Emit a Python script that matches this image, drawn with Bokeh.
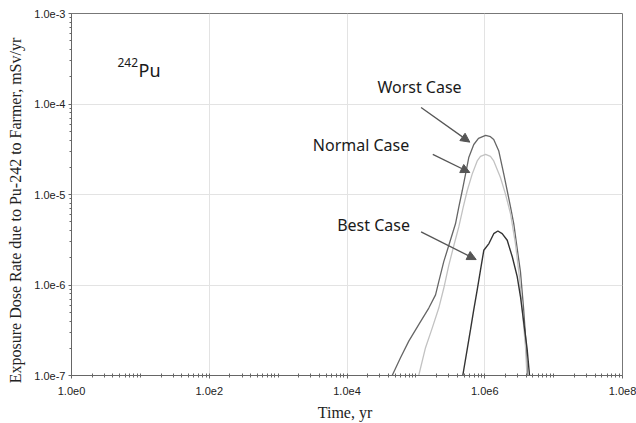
from bokeh.plotting import figure
from bokeh.models import (FixedTicker, CustomJSTickFormatter, Label, Arrow,
                          NormalHead)
from bokeh.embed import file_html
from bokeh.resources import INLINE

# Exposure dose rate to a farmer from Pu-242 (mSv/yr) versus time (yr)
worst_t = [4.53e4, 5.98e4, 7.89e4, 1.10e5, 1.54e5, 1.93e5, 2.15e5, 2.54e5,
           3.01e5, 3.76e5, 4.20e5, 4.71e5, 5.26e5, 5.86e5, 6.93e5, 8.11e5,
           1.03e6, 1.21e6, 1.35e6, 1.60e6, 1.89e6, 2.12e6, 2.37e6, 2.64e6,
           2.89e6, 3.30e6, 3.66e6, 3.97e6, 4.18e6]
worst_d = [1.0e-7, 1.57e-7, 2.40e-7, 3.65e-7, 5.56e-7, 7.78e-7, 1.09e-6,
           1.81e-6, 2.75e-6, 4.75e-6, 7.24e-6, 1.10e-5, 1.68e-5, 2.56e-5,
           3.57e-5, 4.16e-5, 4.49e-5, 4.35e-5, 4.06e-5, 3.02e-5, 1.68e-5,
           1.10e-5, 7.24e-6, 4.75e-6, 2.87e-6, 1.40e-6, 5.56e-7, 2.30e-7,
           1.0e-7]

normal_t = [1.10e5, 1.38e5, 1.73e5, 2.15e5, 2.54e5, 3.01e5, 3.56e5, 4.20e5,
            4.87e5, 5.56e5, 6.57e5, 7.77e5, 8.67e5, 1.03e6, 1.21e6, 1.35e6,
            1.69e6, 2.00e6, 2.37e6, 2.79e6, 3.20e6, 3.59e6, 3.91e6, 4.10e6]
normal_d = [1.0e-7, 2.03e-7, 3.36e-7, 5.56e-7, 9.20e-7, 1.66e-6, 2.73e-6,
            4.38e-6, 7.24e-6, 1.10e-5, 1.68e-5, 2.35e-5, 2.64e-5, 2.78e-5,
            2.64e-5, 2.35e-5, 1.54e-5, 1.01e-5, 6.11e-6, 2.87e-6, 1.19e-6,
            4.33e-7, 2.03e-7, 1.0e-7]

best_t = [4.80e5, 5.56e5, 6.21e5, 6.93e5, 7.77e5, 8.67e5, 9.69e5, 1.15e6,
          1.35e6, 1.55e6, 1.79e6, 2.12e6, 2.51e6, 2.96e6, 3.30e6, 3.69e6,
          4.13e6, 4.47e6]
best_d = [1.0e-7, 1.94e-7, 3.21e-7, 5.33e-7, 8.83e-7, 1.46e-6, 2.42e-6,
          2.87e-6, 3.69e-6, 3.95e-6, 3.69e-6, 3.12e-6, 2.05e-6, 1.24e-6,
          7.46e-7, 3.81e-7, 1.94e-7, 1.0e-7]

x_major = [10.0 ** k for k in range(0, 9, 2)]
x_minor = [m * 10.0 ** k for k in range(0, 8) for m in range(1, 10)]
y_major = [10.0 ** k for k in range(-7, -2)]
y_minor = [m * 10.0 ** k for k in range(-7, -3) for m in range(1, 10)]

p = figure(width=636, height=423, x_axis_type="log", y_axis_type="log",
           x_range=(1.0, 1.0e8), y_range=(1.0e-7, 1.0e-3),
           output_backend="svg", toolbar_location=None,
           min_border_left=71, min_border_right=14,
           min_border_top=13, min_border_bottom=45)
p.background_fill_color = "white"
p.border_fill_color = "white"
p.outline_line_color = "#777777"
p.outline_line_width = 1

fmt = CustomJSTickFormatter(code="return '1.0e' + Math.round(Math.log10(tick));")

p.xaxis.ticker = FixedTicker(ticks=x_major, minor_ticks=x_minor)
p.yaxis.ticker = FixedTicker(ticks=y_major, minor_ticks=y_minor)
p.xaxis.formatter = fmt
p.yaxis.formatter = fmt

for ax in (p.xaxis, p.yaxis):
    ax.axis_line_color = "#666666"
    ax.major_tick_line_color = "#666666"
    ax.minor_tick_line_color = "#666666"
    ax.major_tick_in = 0
    ax.major_tick_out = 3
    ax.minor_tick_in = 0
    ax.minor_tick_out = 2
    ax.major_label_text_font = "Liberation Sans"
    ax.major_label_text_font_size = "11px"
    ax.major_label_text_color = "#222222"
    ax.axis_label_text_font = "Liberation Serif"
    ax.axis_label_text_font_size = "16px"
    ax.axis_label_text_font_style = "normal"
    ax.axis_label_text_color = "#222222"

p.xaxis.minor_tick_in = 2
p.xaxis.major_label_standoff = 8
p.yaxis.major_label_standoff = 3
p.xaxis.axis_label = "Time,  yr"
p.yaxis.axis_label = "Exposure  Dose  Rate  due  to  Pu-242  to  Farmer,  mSv/yr"
p.xaxis.axis_label_standoff = 6
p.yaxis.axis_label_standoff = 7

p.xgrid.grid_line_color = "#e3e3e3"
p.ygrid.grid_line_color = "#e3e3e3"

p.line(worst_t, worst_d, line_color="#666666", line_width=1.3)
p.line(normal_t, normal_d, line_color="#c2c2c2", line_width=1.3)
p.line(best_t, best_d, line_color="#333333", line_width=1.4)

# Case labels with arrows pointing at each curve
label_style = dict(text_font="Noto Sans", text_font_size="16px",
                   text_color="#1a1a1a", text_align="center",
                   text_baseline="middle")
p.add_layout(Label(x=1.13e5, y=1.56e-4, text="Worst Case", **label_style))
p.add_layout(Label(x=1.6e4, y=3.48e-5, text="Normal Case", **label_style))
p.add_layout(Label(x=2.43e4, y=4.63e-6, text="Best Case", **label_style))

arrows = [((1.19e5, 9.16e-5), (6.07e5, 3.79e-5)),
          ((1.76e5, 2.78e-5), (6.07e5, 1.75e-5)),
          ((1.19e5, 3.86e-6), (7.51e5, 1.91e-6))]
for (xs, ys), (xe, ye) in arrows:
    p.add_layout(Arrow(x_start=xs, y_start=ys, x_end=xe, y_end=ye,
                       line_color="#555555", line_width=1.3,
                       end=NormalHead(size=9, fill_color="#555555",
                                      line_color="#555555")))

# Nuclide tag: superscript mass number followed by the element symbol
p.add_layout(Label(x=4.65, y=2.9e-4, text="242", text_font="Noto Sans",
                   text_font_size="12px", text_color="#1a1a1a",
                   text_baseline="alphabetic"))
p.add_layout(Label(x=9.4, y=2.37e-4, text="Pu", text_font="Noto Sans",
                   text_font_size="18px", text_color="#1a1a1a",
                   text_baseline="alphabetic"))

open("out.html", "w").write(file_html(p, INLINE))
